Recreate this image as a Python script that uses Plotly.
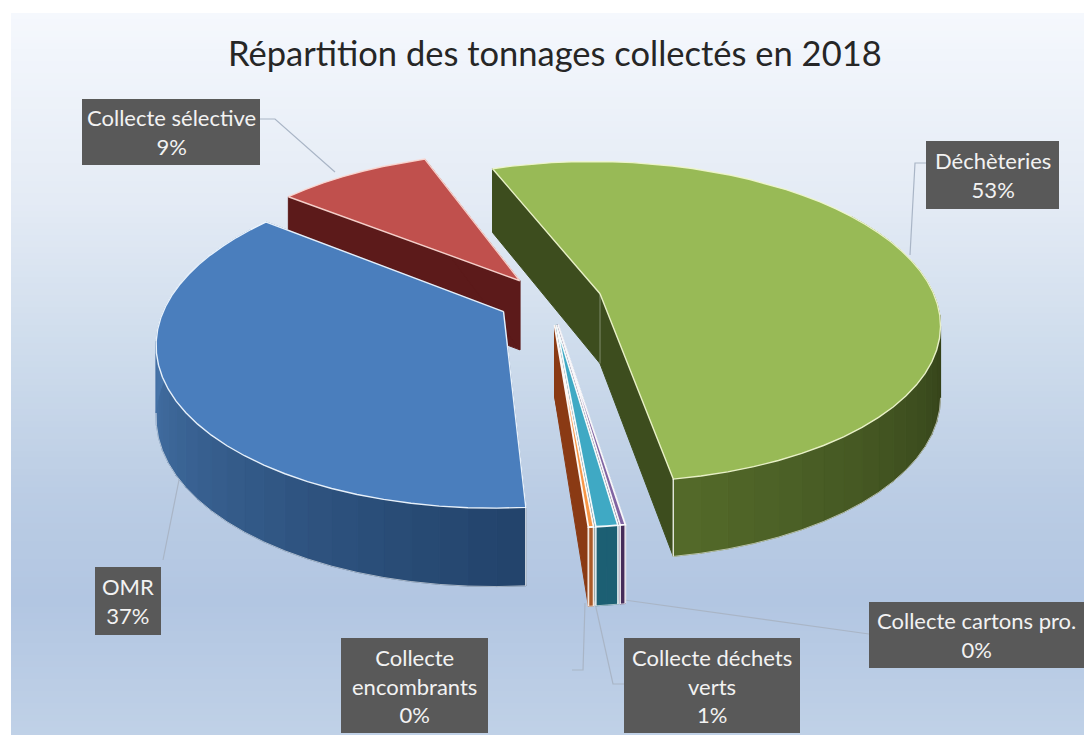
import math
import plotly.graph_objects as go

# Valeurs (parts en %)
names = ["Déchèteries", "Collecte cartons pro.", "Collecte déchets<br>verts",
         "Collecte<br>encombrants", "OMR", "Collecte sélective"]
values = [53.2, 0.2, 0.85, 0.2, 36.8, 8.75]
percent_labels = [53, 0, 1, 0, 37, 9]
top_colors = ["#98BA56", "#8064A2", "#3FA9C4", "#F79646", "#4A7EBD", "#C0504D"]
face_colors = ["#3D4D1E", "#46305E", "#1C6378", "#8A3A14", "#2A4C7C", "#5C1A1A"]
wall_dark = [(52, 66, 26), (70, 45, 90), (28, 95, 115), (170, 90, 40), (35, 68, 108), (90, 28, 26)]
wall_light = [(84, 107, 42), (70, 45, 90), (28, 95, 115), (170, 90, 40), (72, 118, 172), (110, 36, 34)]
outline_colors = ["rgba(238,246,205,0.95)", "rgba(255,255,255,0.95)", "rgba(255,255,255,0.95)",
                  "rgba(255,255,255,0.95)", "rgba(240,248,255,0.95)", "rgba(250,215,210,0.95)"]
outline_widths = [1.4, 1.8, 1.8, 1.8, 1.4, 1.4]
draw_order = [5, 0, 4, 1, 2, 3]

# Boites des etiquettes (x0, x1, y0, y1)
label_boxes = [(926, 1059, 141, 209), (869, 1084, 602, 668), (624, 800, 638, 733),
               (341, 488, 638, 733), (95, 161, 567, 635), (82, 260, 99, 165)]
leaders = [[(926, 163), (915, 163), (910, 255)],
           [(869, 634), (610, 598)],
           [(624, 684), (613, 684), (595, 603)],
           [(572, 670), (583, 670), (585, 603)],
           [(163, 560), (181, 470)],
           [(260, 119), (275, 119), (335, 172)]]

# Vue du camembert 3D
START = -20.5
CX, CY = 550, 300
A, B = 336, 157.5
PERSP = 0.175
DEPTH = 70
EXPLODE = 0.155
STEP = 4.0

BG_STOPS = [(13, (245, 248, 253)), (200, (228, 235, 245)), (350, (206, 220, 236)),
            (500, (186, 204, 228)), (600, (178, 198, 226)), (735, (192, 209, 231))]


def lerp(c0, c1, t):
    t = max(0.0, min(1.0, t))
    return tuple(round(a + (b - a) * t) for a, b in zip(c0, c1))


def rgb(c):
    return "rgb(%d,%d,%d)" % c


def bg_color(y):
    for (y0, c0), (y1, c1) in zip(BG_STOPS, BG_STOPS[1:]):
        if y <= y1:
            return lerp(c0, c1, (y - y0) / (y1 - y0))
    return BG_STOPS[-1][1]


def project(px, py, z=0.0):
    s = 1 / (1 + PERSP * py)
    return CX + A * px * s, CY - B * py * s + z * DEPTH / (1 + 0.1 * py)


def point(theta, mid, r=1.0):
    t, m = math.radians(theta), math.radians(mid)
    return r * math.sin(t) + EXPLODE * math.sin(m), r * math.cos(t) + EXPLODE * math.cos(m)


def polygon(points, fill, line=None, width=1.0):
    xs = [p[0] for p in points] + [points[0][0]]
    ys = [p[1] for p in points] + [points[0][1]]
    return go.Scatter(x=xs, y=ys, mode="lines", fill="toself", fillcolor=fill,
                      line=dict(color=line or fill, width=width), hoverinfo="skip", showlegend=False)


def edge(points, color="rgba(255,255,255,0.85)", width=1.2):
    return go.Scatter(x=[p[0] for p in points], y=[p[1] for p in points], mode="lines",
                      line=dict(color=color, width=width), hoverinfo="skip", showlegend=False)


# Angles cumules
total = sum(values)
spans = []
angle = START
for v in values:
    spans.append((angle, angle + v / total * 360))
    angle = spans[-1][1]

fig = go.Figure()

# Traits de rappel, sous le camembert
for pts in leaders:
    fig.add_trace(edge(pts, "#A9B5C6", 1.2))

for i in draw_order:
    t0, t1 = spans[i]
    mid = (t0 + t1) / 2
    n = max(2, int((t1 - t0) / STEP))
    thetas = [t0 + (t1 - t0) * j / n for j in range(n + 1)]
    apex = point(0, mid, 0)

    # Faces internes
    for th in (t0, t1):
        p = point(th, mid)
        fig.add_trace(polygon([project(*apex), project(*p), project(*p, 1), project(*apex, 1)],
                              face_colors[i]))
    if i == 0:
        fig.add_trace(edge([project(*apex), project(*apex, 1)], "rgba(255,255,255,0.35)", 1.0))

    # Paroi exterieure
    for a0, a1 in zip(thetas, thetas[1:]):
        if math.cos(math.radians(a0)) > 0.5 and math.cos(math.radians(a1)) > 0.5:
            continue
        p0, p1 = point(a0, mid), point(a1, mid)
        if i == 4:  # OMR : plus clair vers la gauche
            shade = (a0 - 177) / 93
        elif i == 0:  # dechetteries : plus clair vers le bas
            shade = (a0 - 100) / 70
        else:
            shade = 0.5
        col = rgb(lerp(wall_dark[i], wall_light[i], shade))
        fig.add_trace(polygon([project(*p0), project(*p1), project(*p1, 1), project(*p0, 1)], col))

    # Dessus
    top = [project(*apex)] + [project(*point(th, mid)) for th in thetas]
    fig.add_trace(polygon(top, top_colors[i], outline_colors[i], outline_widths[i]))

    # Liseres blancs, seulement sur le bord visible
    bottom = [project(*point(th, mid), 1) for th in thetas if math.cos(math.radians(th)) < -0.15]
    if bottom:
        fig.add_trace(edge(bottom, "rgba(255,255,255,0.6)", 1.0))
    for th in (t0, t1):
        if math.cos(math.radians(th)) < 0:
            p = point(th, mid)
            fig.add_trace(edge([project(*p), project(*p, 1)], width=outline_widths[i]))

# Fond degrade
shapes = []
for y in range(13, 735, 6):
    shapes.append(dict(type="rect", layer="below", xref="x", yref="y", x0=11, x1=1084, y0=y, y1=y + 6,
                       fillcolor=rgb(bg_color(y + 3)), line=dict(width=0)))

# Etiquettes
annotations = []
for name, pct, box in zip(names, percent_labels, label_boxes):
    x0, x1, y0, y1 = box
    shapes.append(dict(type="rect", layer="above", xref="x", yref="y", x0=x0, x1=x1, y0=y0, y1=y1,
                       fillcolor="#595959", line=dict(width=0)))
    annotations.append(dict(x=(x0 + x1) / 2, y=(y0 + y1) / 2, xref="x", yref="y",
                            text="%s<br>%d%%" % (name, pct), showarrow=False,
                            font=dict(family="Lato", size=22, color="#F2F2F2")))

annotations.append(dict(x=555, y=52, xref="x", yref="y", text="Répartition des tonnages collectés en 2018",
                        showarrow=False, font=dict(family="Lato", size=34.5, color="#262626")))

fig.update_layout(
    width=1084, height=735,
    margin=dict(l=0, r=0, t=0, b=0),
    paper_bgcolor="white", plot_bgcolor="rgba(0,0,0,0)",
    xaxis=dict(range=[0, 1084], visible=False, fixedrange=True),
    yaxis=dict(range=[735, 0], visible=False, fixedrange=True),
    showlegend=False, shapes=shapes, annotations=annotations,
)

fig.write_html("out.html", post_script="document.body.style.margin='0';",
               config={"displayModeBar": False})
